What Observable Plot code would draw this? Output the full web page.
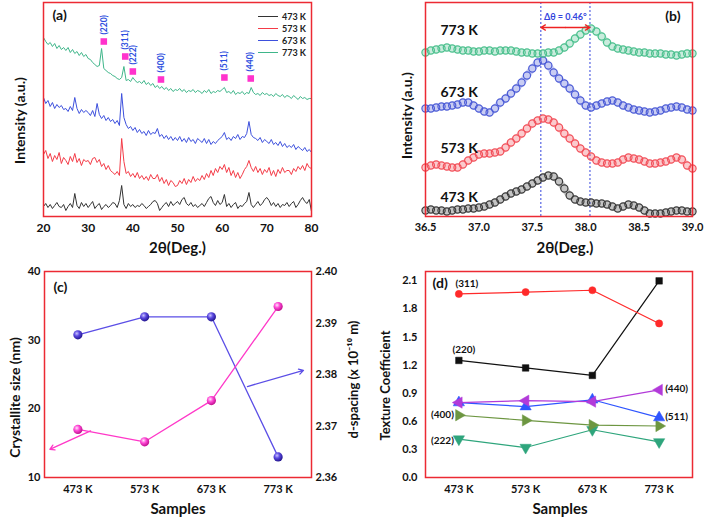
<!DOCTYPE html>
<html><head><meta charset="utf-8">
<script src="https://cdn.jsdelivr.net/npm/d3@7"></script>
<script src="https://cdn.jsdelivr.net/npm/@observablehq/plot@0.6"></script>
<style>
body{margin:0;background:#fff;}
#wrap{position:relative;width:704px;height:520px;overflow:hidden;font-family:Lato,"Open Sans",sans-serif;}
.panel{position:absolute;}
.legA{position:absolute;left:258px;top:10px;font:700 9px Lato,"Open Sans",sans-serif;color:#222;}
.legA div{display:flex;align-items:center;height:12px;}
.legA span.l{display:inline-block;width:20px;height:0;border-top:1.2px solid;margin-right:4px;}
</style></head><body><div id="wrap"></div>
<script>
// ---------- Panel (a): XRD patterns, 20–80°, step 0.5° ----------
const thetaA = d3.range(40, 161).map(d => d / 2);
const a473 = [10,13,9,12,8,11,14,10,9,12, 6,10,13,9,23,11,8,14,10,13, 9,12,15,8,11,13,7,10,12,9,
  11,14,13,9,16,31,12,8,13,10, 12,9,11,10,13,11,8,10,12,15, 16,13,6,9,12,14,10,15,11,13,
  15,12,17,19,13,11,14,10,12,9, 11,13,10,14,18,20,14,11,16,12, 14,22,10,13,9,12,14,8,11,10,
  13,15,24,12,9,12,15,11,13,17, 19,16,11,14,10,13,9,12,11,14, 10,13,15,9,12,16,19,15,13,17, 5];
const a573 = [62,66,58,63,55,61,57,64,53,59, 56,52,60,55,63,54,58,51,57,55, 56,52,58,59,54,57,50,53,47,51,
  46,44,42,45,41,78,55,43,45,40, 43,39,44,38,41,37,40,36,42,38, 38,42,35,39,33,37,31,36,34,30,
  31,36,33,38,32,37,34,40,35,38, 36,41,37,43,39,46,41,48,44,50, 47,52,44,49,41,46,39,44,38,42,
  47,50,56,49,45,50,44,48,42,47, 44,49,41,46,40,47,43,49,44,46, 46,42,48,45,50,47,51,46,53,49, 48];
const a673 = [119,113,116,110,114,108,112,109,111,107, 108,105,110,106,119,108,103,107,104,106, 104,101,106,100,113,102,98,101,96,99,
  95,97,93,96,91,123,99,92,88,90, 86,89,84,87,83,85,81,86,82,84, 83,88,80,82,78,81,77,80,76,79,
  76,80,75,78,74,79,75,77,73,78, 76,74,78,73,77,72,75,73,76,78, 80,84,77,79,76,80,78,82,77,80,
  79,83,95,82,79,78,76,79,74,77, 75,73,77,72,74,71,75,70,73,69, 71,69,72,67,70,68,66,69,65,67, 64];
const a773 = [179,175,172,174,170,173,168,171,167,169, 166,169,164,167,163,165,161,164,160,162, 158,157,154,152,150,151,168,148,146,144,
  143,141,140,138,137,139,150,136,137,135, 139,136,134,135,133,136,132,134,131,133, 129,131,128,130,127,129,126,128,125,127,
  126,128,125,127,124,126,125,127,124,126, 125,123,126,124,127,123,125,124,126,125, 127,129,124,125,123,126,122,124,123,125,
  122,124,123,129,124,122,123,121,124,122, 123,121,122,120,123,121,120,122,119,121, 120,118,121,119,117,120,118,119,117,118, 118];
const samplesA = ["473 K", "573 K", "673 K", "773 K"];
const colorsA = ["#333333", "#f43b47", "#3d50dd", "#3fb68a"];
const peakLabels = ["(220)", "(311)", "(222)", "(400)", "(511)", "(440)"];
const peakPos = [33.5, 38.3, 40.0, 46.3, 60.5, 66.4];
const peakMark = [175, 160, 145, 137, 139, 138];

// ---------- Panel (b): zoom of (311) peak, 36.5–39.0°, step 0.05° ----------
const thetaB = d3.range(730, 781).map(d => d / 20);
const b473 = [6,7,6,6,5,6,7,7,8,8, 9,10,12,14,17,20,23,25,27,30, 33,36,39,41,40,35,28,21,17,15,
  14,14,13,13,12,10,8,10,12,11, 9,6,3,3,3,4,5,6,6,5,5];
const b573 = [49,51,52,51,50,49,49,52,56,59, 62,63,63,64,65,69,74,78,83,88, 93,96,98,97,94,89,83,78,73,68,
  64,60,56,54,53,53,54,57,59,58, 57,55,53,53,54,55,57,59,57,51,48];
const b673 = [108,108,109,110,110,111,112,114,114,111, 108,105,104,108,114,118,123,128,134,141, 148,154,156,151,144,138,133,128,122,116,
  111,109,111,113,115,116,114,111,109,107, 106,105,104,105,106,108,109,110,109,107,106];
const b773 = [164,166,167,168,169,168,167,166,166,165, 165,166,166,165,166,166,166,165,164,164, 163,163,163,164,164,166,169,173,178,182,
  186,188,185,180,174,170,168,167,166,165, 164,164,163,163,163,162,162,161,162,163,163];
const colorsB = ["#3a3a3a", "#f2505a", "#4b5bd6", "#4cc08e"];
const labelYB = [19, 68, 124, 186];
const peakLines = [37.58, 38.04];
const shiftText = "Δθ = 0.46°";

// ---------- Panel (c): crystallite size & d-spacing ----------
const samples = ["473 K", "573 K", "673 K", "773 K"];
const crystSize = [17.0, 15.2, 21.2, 34.9];
const dSpacing = [2.3877, 2.3912, 2.3912, 2.3640];
const sizeTicks = [10, 20, 30, 40];
const dTicks = [2.36, 2.37, 2.38, 2.39, 2.40];
const arrowsC = [
  {x1: 0.19, y1: 16.8, x2: -0.42, y2: 14.1, c: "#ff38c8"},
  {x1: 2.54, y1: 23.25, x2: 3.38, y2: 25.6, c: "#5b4ee6"}
];

// ---------- Panel (d): texture coefficients ----------
const tc220 = [1.25, 1.17, 1.09, 2.10];
const tc311 = [1.96, 1.98, 2.00, 1.645];
const tc222 = [0.41, 0.32, 0.51, 0.38];
const tc400 = [0.665, 0.61, 0.56, 0.55];
const tc511 = [0.80, 0.757, 0.83, 0.64];
const tc440 = [0.80, 0.82, 0.81, 0.935];
const tcTicks = [0, 0.3, 0.6, 0.9, 1.2, 1.5, 1.8, 2.1];
const tcLabels = [
  {t: "(311)", i: 0, v: 2.07, dx: 8, a: "middle"},
  {t: "(220)", i: 0, v: 1.365, dx: 5, a: "middle"},
  {t: "(440)", i: 3, v: 0.95, dx: 6, a: "start"},
  {t: "(511)", i: 3, v: 0.65, dx: 6, a: "start"},
  {t: "(400)", i: 0, v: 0.665, dx: -5, a: "end"},
  {t: "(222)", i: 0, v: 0.395, dx: -5, a: "end"}
];

// ---------- helpers ----------
const W = 352, H = 260;
const frameColor = "#ec2a33";
const font = 'Lato, "Open Sans", sans-serif';
const baseStyle = {fontFamily: font, fontWeight: "bold", fontSize: "11px", overflow: "visible", background: "transparent", color: "#111"};
const wrap = document.getElementById("wrap");
function place(node, left, top) {
  const d = document.createElement("div");
  d.className = "panel"; d.style.left = left + "px"; d.style.top = top + "px";
  d.appendChild(node); wrap.appendChild(d);
}
function title(text, anchor, dx, dy, size = 14, rotate = 0) {
  return Plot.text([text], {text: d => d, frameAnchor: anchor, rotate, textAnchor: "middle", lineAnchor: "middle",
    dx, dy, fontSize: size, fontWeight: "bold", fill: "#111"});
}
function tag(text, anchor, dx, dy) {
  return Plot.text([text], {text: d => d, frameAnchor: anchor, dx, dy, fontSize: 14, fontWeight: "bold", fill: "#111"});
}
const sq3 = Math.sqrt(3);
function tri(dir) {
  return {draw(ctx, size) {
    const y = Math.sqrt(size / (sq3 * 3));
    const P = [[0, -2 * y], [-sq3 * y, y], [sq3 * y, y]];
    const rot = {up: p => p, down: p => [p[0], -p[1]], left: p => [p[1], p[0]], right: p => [-p[1], p[0]]}[dir];
    const q = P.map(rot);
    ctx.moveTo(q[0][0], q[0][1]); ctx.lineTo(q[1][0], q[1][1]); ctx.lineTo(q[2][0], q[2][1]); ctx.closePath();
  }};
}

// ---------- (a) ----------
const rowsA = [];
[a473, a573, a673, a773].forEach((vals, k) => vals.forEach((v, i) => rowsA.push({s: samplesA[k], t: thetaA[i], v})));
const peaks = peakLabels.map((l, i) => ({l, x: peakPos[i], y: peakMark[i]}));
const plotA = Plot.plot({
  width: W, height: H, marginLeft: 43, marginRight: 41, marginTop: 2, marginBottom: 44,
  style: baseStyle,
  x: {domain: [20, 80]},
  y: {domain: [0, 214], axis: null},
  color: {domain: samplesA, range: colorsA},
  marks: [
    Plot.line(rowsA, {x: "t", y: "v", z: "s", stroke: "s", strokeWidth: 1}),
    Plot.dot(peaks, {x: "x", y: "y", symbol: "square", r: 3.7, fill: "#ff33cc"}),
    Plot.text(peaks, {x: "x", y: "y", text: "l", rotate: -90, textAnchor: "start", dy: -7, fontSize: 8.5, fontWeight: "bold", fill: "#2f4fe0"}),
    Plot.frame({stroke: frameColor, strokeWidth: 1.5}),
    Plot.axisX({ticks: [20, 30, 40, 50, 60, 70, 80], tickSize: 0, tickPadding: 7, label: null, fontSize: 12}),
    title("Intensity (a.u.)", "left", -23, 11, 14, -90),
    title("2θ(Deg.)", "bottom", 0, 32, 15),
    tag("(a)", "top-left", 9, 8)
  ]
});
place(plotA, 0, 0);
const leg = document.createElement("div");
leg.className = "legA";
samplesA.forEach((s, k) => {
  const r = document.createElement("div");
  r.innerHTML = `<span class="l" style="border-color:${colorsA[k]}"></span>${s}`;
  leg.appendChild(r);
});
wrap.appendChild(leg);

// ---------- (b) ----------
const rowsB = [];
[b473, b573, b673, b773].forEach((vals, k) => vals.forEach((v, i) => rowsB.push({s: samplesA[k], t: thetaB[i], v})));
const labB = samplesA.map((s, k) => ({s, y: labelYB[k]}));
const mid = d3.mean(peakLines);
const plotB = Plot.plot({
  width: W, height: H, marginLeft: 73, marginRight: 12, marginTop: 2, marginBottom: 44,
  style: baseStyle,
  x: {domain: [36.5, 39.0]},
  y: {domain: [0, 214], axis: null},
  color: {domain: samplesA, range: colorsB},
  marks: [
    Plot.ruleX(peakLines, {stroke: "#3344dd", strokeWidth: 1, strokeDasharray: "2,2"}),
    Plot.line(rowsB, {x: "t", y: "v", z: "s", stroke: "s", strokeWidth: 7, strokeOpacity: 0.3, curve: "catmull-rom"}),
    Plot.dot(rowsB, {x: "t", y: "v", stroke: "s", r: 3.6, strokeWidth: 1.2, fill: "none"}),
    Plot.arrow([peakLines[0], peakLines[1]], {x1: () => mid, x2: d => d, y1: () => 189, y2: () => 189, stroke: "#ee2222", strokeWidth: 1.3, headLength: 6}),
    Plot.text([shiftText], {text: d => d, x: () => mid, y: () => 199, fontSize: 9, fontWeight: "bold", fill: "#3344dd"}),
    Plot.text(labB, {x: () => 36.64, y: "y", text: "s", textAnchor: "start", fontSize: 14, fontWeight: "bold", fill: "#111"}),
    Plot.frame({stroke: frameColor, strokeWidth: 1.5}),
    Plot.axisX({ticks: [36.5, 37.0, 37.5, 38.0, 38.5, 39.0], tickFormat: ".1f", tickSize: 0, tickPadding: 7, label: null, fontSize: 11}),
    title("Intensity (a.u.)", "left", -18, 6, 14, -90),
    title("2θ(Deg.)", "bottom", 6, 32, 15),
    tag("(b)", "top-right", -12, 9)
  ]
});
place(plotB, 352, 0);

// ---------- (c) ----------
const dToC = d => 10 + (d - 2.36) / 0.04 * 30;
const rowsC = samples.map((s, i) => ({i, size: crystSize[i], d: dToC(dSpacing[i])}));
const plotC = Plot.plot({
  width: W, height: H, marginLeft: 44, marginRight: 41, marginTop: 11, marginBottom: 43,
  style: baseStyle,
  x: {domain: [-0.5, 3.5], axis: null},
  y: {domain: [10, 40], axis: null},
  marks: [
    Plot.line(rowsC, {x: "i", y: "d", stroke: "#5b4ee6", strokeWidth: 1.3}),
    Plot.line(rowsC, {x: "i", y: "size", stroke: "#ff38c8", strokeWidth: 1.3}),
    Plot.dot(rowsC, {x: "i", y: "d", r: 4.6, fill: "url(#sphB)"}),
    Plot.dot(rowsC, {x: "i", y: "size", r: 4.6, fill: "url(#sphP)"}),
    Plot.arrow(arrowsC, {x1: "x1", y1: "y1", x2: "x2", y2: "y2", stroke: "c", strokeWidth: 1.3, headLength: 6}),
    Plot.frame({stroke: frameColor, strokeWidth: 1.5}),
    Plot.axisX({ticks: [0, 1, 2, 3], tickFormat: i => samples[i], tickSize: 0, tickPadding: 8, label: null, fontSize: 11}),
    Plot.axisY({ticks: sizeTicks, tickSize: 0, tickPadding: 4, label: null, fontSize: 11}),
    Plot.axisY({anchor: "right", ticks: dTicks.map(dToC), tickFormat: v => ((v - 10) / 30 * 0.04 + 2.36).toFixed(2), tickSize: 0, tickPadding: 4, label: null, fontSize: 11}),
    title("Crystallite size (nm)", "left", -29, 23, 14, -90),
    title("d-spacing (x 10⁻¹⁰ m)", "right", 42, 5, 13, -90),
    title("Samples", "bottom", 0, 32, 15),
    tag("(c)", "top-left", 9, 11)
  ]
});
const defs = d3.select(plotC).insert("defs", ":first-child");
[["sphB", "#c9c2ff", "#5a48e0", "#241690"], ["sphP", "#ffe6fa", "#ff48d6", "#c0108f"]].forEach(([id, c0, c1, c2]) => {
  const g = defs.append("radialGradient").attr("id", id).attr("cx", "38%").attr("cy", "35%").attr("r", "65%");
  g.append("stop").attr("offset", "0%").attr("stop-color", c0);
  g.append("stop").attr("offset", "45%").attr("stop-color", c1);
  g.append("stop").attr("offset", "100%").attr("stop-color", c2);
});
place(plotC, 0, 260);

// ---------- (d) ----------
const seriesD = [
  {k: "(220)", v: tc220, c: "#111111", sym: "square", r: 3.7},
  {k: "(311)", v: tc311, c: "#ff2a2a", sym: "circle", r: 3.6},
  {k: "(222)", v: tc222, c: "#2ea57c", sym: tri("down"), r: 4.2},
  {k: "(400)", v: tc400, c: "#6d9641", sym: tri("right"), r: 4.2},
  {k: "(511)", v: tc511, c: "#2f55ff", sym: tri("up"), r: 4.2},
  {k: "(440)", v: tc440, c: "#b23ad9", sym: tri("left"), r: 4.2}
];
const marksD = [];
seriesD.forEach(s => {
  const rows = s.v.map((v, i) => ({i, v}));
  marksD.push(Plot.line(rows, {x: "i", y: "v", stroke: s.c, strokeWidth: 1.2}));
  marksD.push(Plot.dot(rows, {x: "i", y: "v", symbol: s.sym, r: s.r, fill: s.c, stroke: s.c, strokeWidth: 0.5}));
});
const plotD = Plot.plot({
  width: W, height: H, marginLeft: 73, marginRight: 12, marginTop: 11, marginBottom: 43,
  style: baseStyle,
  x: {domain: [-0.5, 3.5], axis: null},
  y: {domain: [0, 2.2], axis: null},
  marks: [
    ...marksD,
    ...tcLabels.map(l => Plot.text([l], {x: "i", y: "v", text: "t", dx: l.dx, textAnchor: l.a, fontSize: 10, fontWeight: "bold", fill: "#111"})),
    Plot.frame({stroke: frameColor, strokeWidth: 1.5}),
    Plot.axisX({ticks: [0, 1, 2, 3], tickFormat: i => samples[i], tickSize: 0, tickPadding: 8, label: null, fontSize: 11}),
    Plot.axisY({ticks: tcTicks, tickFormat: ".1f", tickSize: 0, tickPadding: 8, label: null, fontSize: 11}),
    title("Texture Coefficient", "left", -40, 11, 13, -90),
    title("Samples", "bottom", 1, 32, 15),
    tag("(d)", "top-left", 7, 7)
  ]
});
place(plotD, 352, 260);
</script></body></html>
